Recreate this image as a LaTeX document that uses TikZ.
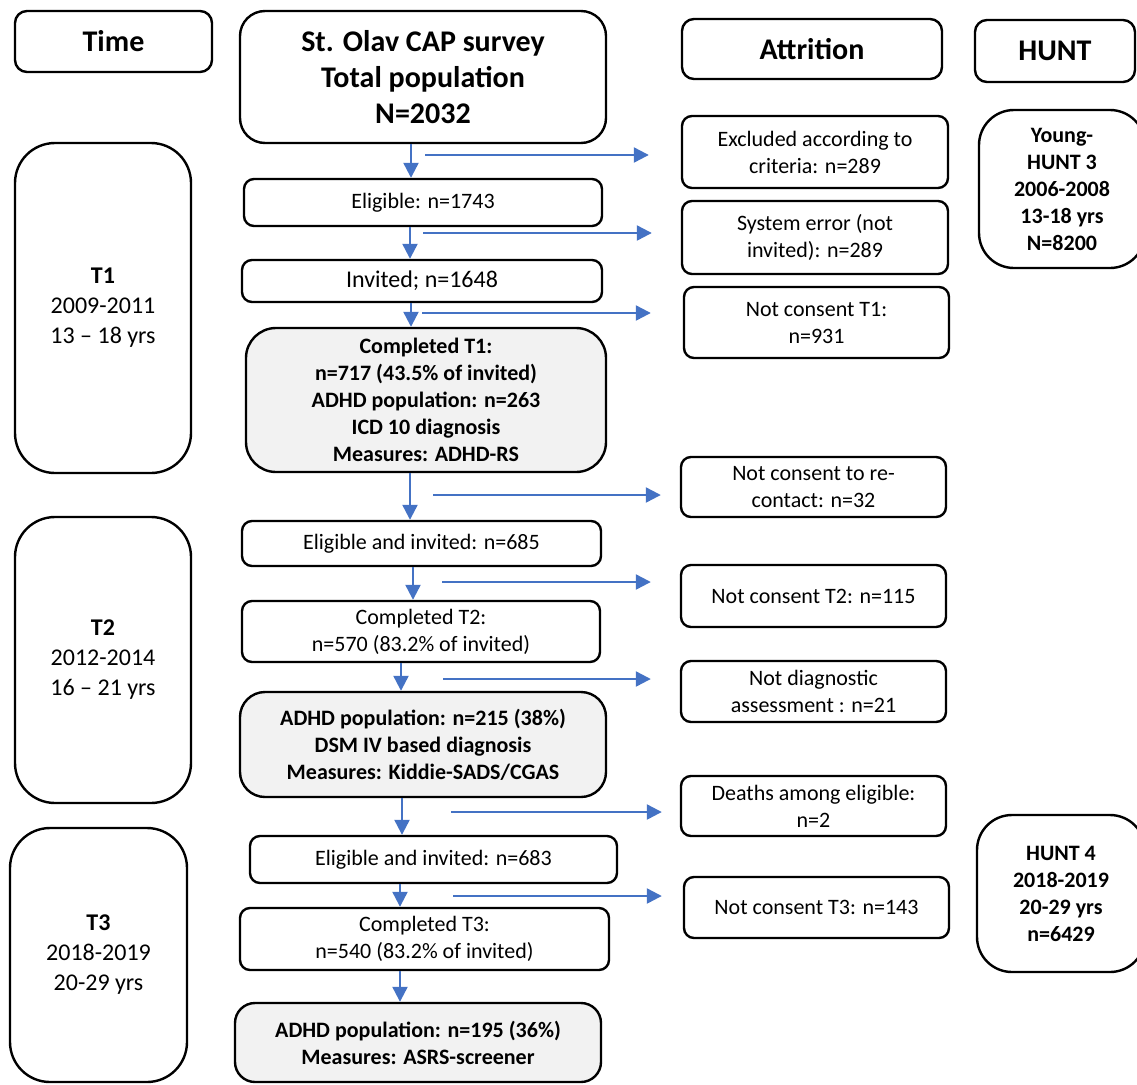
\documentclass[tikz,border=0pt]{standalone}
\usepackage{fontspec}
\setmainfont{Carlito}
\usetikzlibrary{arrows.meta,calc}
\definecolor{arrblue}{HTML}{4472C4}
\definecolor{boxgrey}{HTML}{F2F2F2}
\newcommand\regf{\fontsize{22}{27}\selectfont}
\newcommand\regbf{\fontsize{22}{27}\selectfont\bfseries}
\newcommand\bigbf{\fontsize{30}{36}\selectfont\bfseries}
\newcommand\timef{\fontsize{24}{30}\selectfont}
\begin{document}
\begin{tikzpicture}[x=1pt,y=-1pt,
  box/.style={draw, line width=2.4pt, rounded corners=10pt, align=center, inner sep=0pt, font=\regf},
  greybox/.style={box, fill=boxgrey, font=\regbf, rounded corners=25pt},
  headbox/.style={box, font=\bigbf, rounded corners=12pt},
  timebox/.style={box, font=\timef, rounded corners=40pt},
  huntbox/.style={box, font=\regbf, rounded corners=35pt},
  arr/.style={draw=arrblue, line width=2.3pt, -{Triangle[length=15pt,width=15pt]}}]
\useasboundingbox (0,0) rectangle (1137,1084);

% headers
\node[headbox, minimum width=197pt, minimum height=61pt] (time) at (113.5,41.5) {Time};
\node[headbox, minimum width=366pt, minimum height=132pt, rounded corners=25pt] (main) at (423,77) {St. Olav CAP survey\\Total population\\N=2032};
\node[headbox, minimum width=260pt, minimum height=60pt] (attr) at (812,49) {Attrition};
\node[headbox, minimum width=160pt, minimum height=62pt] (hunt) at (1055,51) {HUNT};

% time boxes
\node[timebox, minimum width=176pt, minimum height=330pt] (t1) at (103,308) {\textbf{T1}\\2009-2011\\13 – 18 yrs};
\node[timebox, minimum width=176pt, minimum height=286pt] (t2) at (103,660) {\textbf{T2}\\2012-2014\\16 – 21 yrs};
\node[timebox, minimum width=177pt, minimum height=254pt] (t3) at (98.5,955) {\textbf{T3}\\2018-2019\\20-29 yrs};

% flow boxes
\node[box, minimum width=358pt, minimum height=47pt] (elig1) at (423,202.5) {Eligible: n=1743};
\node[box, minimum width=360pt, minimum height=42pt, font=\fontsize{24}{29}\selectfont] (inv) at (422,281) {Invited; n=1648};
\node[greybox, minimum width=360pt, minimum height=144pt, rounded corners=30pt] (comp1) at (426,400) {Completed T1:\\n=717 (43.5\% of invited)\\ADHD population: n=263\\ICD 10 diagnosis\\Measures: ADHD-RS};
\node[box, minimum width=359pt, minimum height=45pt] (elig2) at (421.5,543.5) {Eligible and invited: n=685};
\node[box, minimum width=358pt, minimum height=61pt] (comp2) at (421,631.5) {Completed T2:\\n=570 (83.2\% of invited)};
\node[greybox, minimum width=366pt, minimum height=105pt] (adhd2) at (423,744.5) {ADHD population: n=215 (38\%)\\DSM IV based diagnosis\\Measures: Kiddie-SADS/CGAS};
\node[box, minimum width=367pt, minimum height=47pt] (elig3) at (433.5,859.5) {Eligible and invited: n=683};
\node[box, minimum width=369pt, minimum height=62pt] (comp3) at (424.5,939) {Completed T3:\\n=540 (83.2\% of invited)};
\node[greybox, minimum width=366pt, minimum height=79pt, rounded corners=20pt] (adhd3) at (418,1042.5) {ADHD population: n=195 (36\%)\\Measures: ASRS-screener};

% attrition boxes
\node[box, minimum width=266pt, minimum height=72pt] (excl) at (815,152) {Excluded according to\\criteria: n=289};
\node[box, minimum width=266pt, minimum height=73pt] (syserr) at (815,237.5) {System error (not\\invited): n=289};
\node[box, minimum width=265pt, minimum height=71pt] (nc1) at (816.5,322.5) {Not consent T1:\\n=931};
\node[box, minimum width=265pt, minimum height=60pt] (recon) at (813.5,487) {Not consent to re-\\contact: n=32};
\node[box, minimum width=265pt, minimum height=62pt] (nc2) at (813.5,596) {Not consent T2: n=115};
\node[box, minimum width=265pt, minimum height=61pt] (notdiag) at (813.5,691.5) {Not diagnostic\\assessment : n=21};
\node[box, minimum width=265pt, minimum height=60pt] (deaths) at (813.5,806) {Deaths among eligible:\\n=2};
\node[box, minimum width=265pt, minimum height=61pt] (nc3) at (816.5,907.5) {Not consent T3: n=143};

% HUNT boxes
\node[huntbox, minimum width=166pt, minimum height=158pt] (yh3) at (1062,189) {Young-\\HUNT 3\\2006-2008\\13-18 yrs\\N=8200};
\node[huntbox, minimum width=168pt, minimum height=157pt] (h4) at (1061,893.5) {HUNT 4\\2018-2019\\20-29 yrs\\n=6429};

% vertical arrows
\path (main.south) ++(-12,0) coordinate (v1);
\draw[arr] (v1) -- (v1 |- elig1.north);
\path (elig1.south) ++(-13,0) coordinate (v2);
\draw[arr] (v2) -- (v2 |- inv.north);
\path (inv.south) ++(-11,0) coordinate (v3);
\draw[arr] (v3) -- (v3 |- comp1.north);
\path (comp1.south) ++(-16,0) coordinate (v4);
\draw[arr] (v4) -- (v4 |- elig2.north);
\path (elig2.south) ++(-8.5,0) coordinate (v5);
\draw[arr] (v5) -- (v5 |- comp2.north);
\path (comp2.south) ++(-20,0) coordinate (v6);
\draw[arr] (v6) -- (v6 |- adhd2.north);
\path (adhd2.south) ++(-21,0) coordinate (v7);
\draw[arr] (v7) -- (v7 |- elig3.north);
\path (elig3.south) ++(-33.5,0) coordinate (v8);
\draw[arr] (v8) -- (v8 |- comp3.north);
\path (comp3.south) ++(-24.5,0) coordinate (v9);
\draw[arr] (v9) -- (v9 |- adhd3.north);

% horizontal arrows
\coordinate (h1) at (425,155);
\draw[arr, shorten >=32pt] (h1) -- (h1 -| excl.west);
\coordinate (h2) at (423,233);
\draw[arr, shorten >=29pt] (h2) -- (h2 -| syserr.west);
\coordinate (h3) at (422,313);
\draw[arr, shorten >=32pt] (h3) -- (h3 -| nc1.west);
\coordinate (h4) at (433,495);
\draw[arr, shorten >=19pt] (h4) -- (h4 -| recon.west);
\coordinate (h5) at (442,582);
\draw[arr, shorten >=29pt] (h5) -- (h5 -| nc2.west);
\coordinate (h6) at (443,679);
\draw[arr, shorten >=29pt] (h6) -- (h6 -| notdiag.west);
\coordinate (h7) at (451,812);
\draw[arr, shorten >=18pt] (h7) -- (h7 -| deaths.west);
\coordinate (h8) at (453,896);
\draw[arr, shorten >=21pt] (h8) -- (h8 -| nc3.west);
\end{tikzpicture}
\end{document}
